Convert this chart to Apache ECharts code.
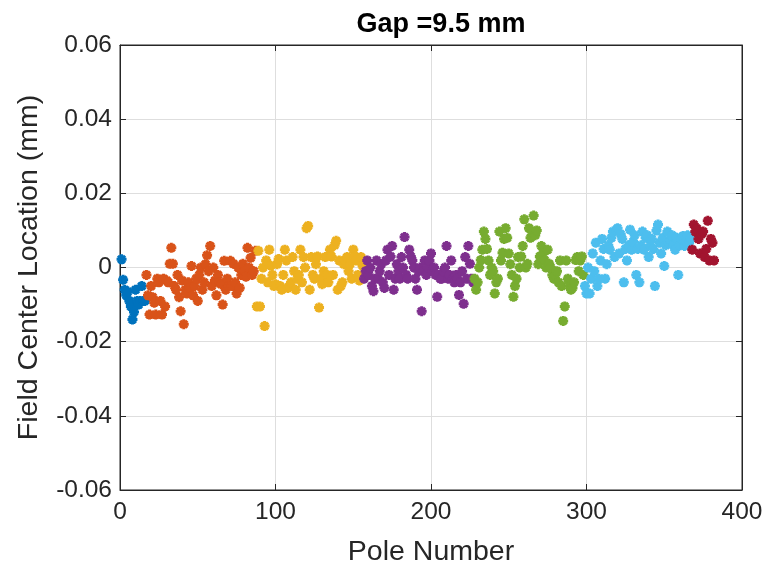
<!DOCTYPE html>
<html>
<head>
<meta charset="utf-8">
<script src="https://cdn.jsdelivr.net/npm/echarts@6/dist/echarts.min.js"></script>
<style>
  html, body { margin: 0; padding: 0; background: #fff; }
  #chart { width: 770px; height: 567px; }
</style>
</head>
<body>
<div id="chart"></div>
<script>
// field center location (mm), one value per pole, grouped by segment
const seg1 = [0.0022, -0.0033, -0.0060, -0.0075, -0.0065, -0.0090, -0.0105, -0.0140, -0.0120, -0.0060, -0.0090, -0.0100, -0.0090, -0.0050, -0.0090, -0.0090]
const seg2 = [-0.0020, -0.0075, -0.0127, -0.0050, -0.0080, -0.0095, -0.0127, -0.0030, -0.0040, -0.0090,
  -0.0127, -0.0030, -0.0105, -0.0035, -0.0040, 0.0010, 0.0053, 0.0010, -0.0050, -0.0060,
  -0.0020, -0.0080, -0.0118, -0.0035, -0.0153, -0.0060, -0.0070, -0.0040, -0.0055, 0.0004,
  -0.0075, -0.0050, -0.0030, -0.0090, -0.0020, 0.0000, -0.0060, -0.0040, 0.0009, 0.0033,
  -0.0010, 0.0058, -0.0050, 0.0000, -0.0035, -0.0075, -0.0020, -0.0040, -0.0045, -0.0100,
  0.0018, -0.0060, -0.0030, -0.0050, 0.0018, -0.0050, 0.0010, -0.0040, -0.0070, 0.0000,
  -0.0055, -0.0020, 0.0010, -0.0010, -0.0025, 0.0053, 0.0000, 0.0026, -0.0020, -0.0010, 0.0045]
const seg3 = [-0.0105, 0.0045, -0.0105, -0.0030, 0.0000, -0.0158, 0.0019, -0.0040, 0.0048, 0.0005,
  -0.0020, -0.0050, -0.0045, 0.0009, 0.0023, -0.0050, -0.0060, -0.0020, 0.0048, 0.0019,
  -0.0055, -0.0050, -0.0040, 0.0028, -0.0010, -0.0060, -0.0030, -0.0020, 0.0048, -0.0040,
  0.0028, 0.0000, 0.0106, 0.0112, -0.0060, 0.0028, -0.0020, -0.0030, 0.0009, 0.0030,
  -0.0108, -0.0030, -0.0045, -0.0010, 0.0028, -0.0020, -0.0040, 0.0048, 0.0030, -0.0020,
  0.0060, 0.0072, -0.0060, 0.0019, -0.0050, -0.0040, 0.0009, 0.0020, 0.0028, -0.0010,
  0.0010, -0.0030, 0.0048, 0.0030, 0.0019, -0.0020, -0.0035, 0.0028, 0.0005]
const seg4 = [-0.0030, -0.0010, 0.0019, -0.0020, 0.0000, -0.0050, -0.0064, -0.0030, 0.0019, -0.0030,
  -0.0010, 0.0009, -0.0040, -0.0055, 0.0019, 0.0048, -0.0020, 0.0030, 0.0058, -0.0060,
  -0.0030, 0.0009, -0.0010, -0.0030, 0.0028, 0.0000, 0.0082, -0.0020, -0.0030, 0.0048,
  0.0030, 0.0019, 0.0000, -0.0030, -0.0060, -0.0010, 0.0000, -0.0118, -0.0010, 0.0019,
  -0.0020, 0.0000, 0.0019, 0.0038, -0.0010, 0.0000, -0.0020, -0.0079, -0.0020, -0.0030,
  -0.0030, -0.0010, 0.0000, 0.0058, -0.0030, -0.0020, 0.0019, -0.0030, -0.0040, -0.0020,
  -0.0030, -0.0074, -0.0040, -0.0010, -0.0098, 0.0028, -0.0030, 0.0058, 0.0010, -0.0030, -0.0040]
const seg5 = [-0.0030, -0.0060, -0.0040, 0.0000, 0.0020, 0.0048, 0.0097, 0.0077, 0.0050, 0.0019,
  -0.0020, 0.0000, -0.0010, -0.0070, -0.0040, -0.0030, 0.0097, 0.0019, 0.0040, 0.0077,
  0.0106, 0.0080, 0.0038, 0.0009, -0.0020, -0.0079, -0.0050, -0.0030, 0.0028, 0.0000,
  0.0030, 0.0058, 0.0130, 0.0000, 0.0010, 0.0106, 0.0080, 0.0097, 0.0140, 0.0087,
  0.0100, 0.0009, 0.0030, 0.0058, 0.0038, 0.0020, 0.0000, 0.0048, 0.0010, 0.0000,
  -0.0020, -0.0030, -0.0020, -0.0010, -0.0040, 0.0019, -0.0050, -0.0144, -0.0105, 0.0019,
  -0.0030, -0.0050, -0.0060, -0.0055, -0.0040, 0.0020, 0.0028, -0.0010, 0.0019, 0.0030, -0.0020]
const seg6 = [-0.0050, -0.0070, 0.0000, -0.0070, -0.0030, 0.0038, -0.0010, 0.0067, -0.0050, -0.0030,
  0.0019, 0.0077, 0.0050, -0.0030, 0.0009, 0.0060, 0.0048, 0.0080, 0.0097, 0.0028,
  0.0100, 0.0106, 0.0038, 0.0090, 0.0077, -0.0040, 0.0050, 0.0019, 0.0060, 0.0102,
  0.0048, 0.0070, 0.0087, -0.0020, 0.0050, -0.0040, 0.0060, 0.0097, 0.0048, 0.0080,
  0.0087, 0.0028, 0.0060, 0.0077, 0.0050, -0.0050, 0.0100, 0.0116, 0.0067, 0.0038,
  0.0080, 0.0004, 0.0060, 0.0097, 0.0067, 0.0075, 0.0087, 0.0060, 0.0048, 0.0080,
  -0.0020, 0.0060, 0.0077, 0.0085, 0.0058, 0.0070, 0.0087, 0.0067, 0.0080]
const seg7 = [0.0048, 0.0116, 0.0097, 0.0105, 0.0077, 0.0038, 0.0090, 0.0097, 0.0028, 0.0050,
  0.0126, 0.0019, 0.0077, 0.0067, 0.0019]

const segments = [seg1, seg2, seg3, seg4, seg5, seg6, seg7]
const segmentStart = [1, 17, 88, 157, 228, 299, 368]
const segmentColors = ['#0072BD', '#D95319', '#EDB120', '#7E2F8E', '#77AC30', '#4DBEEE', '#A2142F']

const xTicks = [0, 100, 200, 300, 400]
const yTicks = [-0.06, -0.04, -0.02, 0, 0.02, 0.04, 0.06]

// asterisk marker (plus + rotated plus)
const starPath = 'path://M-1.5,-5L1.5,-5L1.5,-1.5L5,-1.5L5,1.5L1.5,1.5L1.5,5L-1.5,5L-1.5,1.5L-5,1.5L-5,-1.5L-1.5,-1.5Z' +
  'M2.47,-4.6L4.6,-2.47L2.12,0L4.6,2.47L2.47,4.6L0,2.12L-2.47,4.6L-4.6,2.47L-2.12,0L-4.6,-2.47L-2.47,-4.6L0,-2.12Z'

const fontFamily = '"Liberation Sans", Arial, Helvetica, sans-serif'
const textColor = '#262626'

const chart = echarts.init(document.getElementById('chart'), null, { renderer: 'canvas' })

const series = segments.map((vals, k) => ({
  type: 'scatter',
  symbol: starPath,
  symbolSize: 10,
  itemStyle: { color: segmentColors[k], opacity: 1 },
  data: vals.map((v, i) => [segmentStart[k] + i, v]),
  z: 3
}))

const yFmt = v => (Math.abs(v) < 1e-9 ? '0' : v.toFixed(2))

chart.setOption({
  animation: false,
  backgroundColor: '#fff',
  title: {
    text: 'Gap =9.5 mm',
    left: 436,
    top: 6,
    textAlign: 'center',
    textStyle: { fontFamily, fontSize: 27, fontWeight: 'bold', color: '#000' }
  },
  grid: {
    left: 120,
    right: 28,
    top: 45,
    bottom: 77,
    outerBoundsMode: 'none',
    containLabel: false,
    show: true,
    borderColor: textColor,
    borderWidth: 1
  },
  xAxis: [
    {
      type: 'value',
      min: xTicks[0],
      max: xTicks[xTicks.length - 1],
      interval: 100,
      name: 'Pole Number',
      nameLocation: 'middle',
      nameGap: 48,
      nameTextStyle: { fontFamily, fontSize: 28.5, color: textColor },
      axisLine: { show: true, onZero: false, lineStyle: { color: textColor } },
      axisTick: { show: true, inside: true, length: 6, lineStyle: { color: textColor } },
      axisLabel: { fontFamily, fontSize: 24.5, color: textColor, margin: 10 },
      splitLine: { show: true, lineStyle: { color: '#dedede' } }
    },
    {
      type: 'value',
      position: 'top',
      min: xTicks[0],
      max: xTicks[xTicks.length - 1],
      interval: 100,
      axisLine: { show: true, onZero: false, lineStyle: { color: textColor } },
      axisTick: { show: true, inside: true, length: 6, lineStyle: { color: textColor } },
      axisLabel: { show: false },
      splitLine: { show: false }
    }
  ],
  yAxis: [
    {
      type: 'value',
      min: yTicks[0],
      max: yTicks[yTicks.length - 1],
      interval: 0.02,
      name: 'Field Center Location (mm)',
      nameLocation: 'middle',
      nameGap: 76,
      nameTextStyle: { fontFamily, fontSize: 28.5, color: textColor },
      axisLine: { show: true, onZero: false, lineStyle: { color: textColor } },
      axisTick: { show: true, inside: true, length: 6, lineStyle: { color: textColor } },
      axisLabel: { fontFamily, fontSize: 24.5, color: textColor, margin: 8, formatter: yFmt },
      splitLine: { show: true, lineStyle: { color: '#dedede' } }
    },
    {
      type: 'value',
      position: 'right',
      min: yTicks[0],
      max: yTicks[yTicks.length - 1],
      interval: 0.02,
      axisLine: { show: true, onZero: false, lineStyle: { color: textColor } },
      axisTick: { show: true, inside: true, length: 6, lineStyle: { color: textColor } },
      axisLabel: { show: false },
      splitLine: { show: false }
    }
  ],
  series
})
</script>
</body>
</html>
